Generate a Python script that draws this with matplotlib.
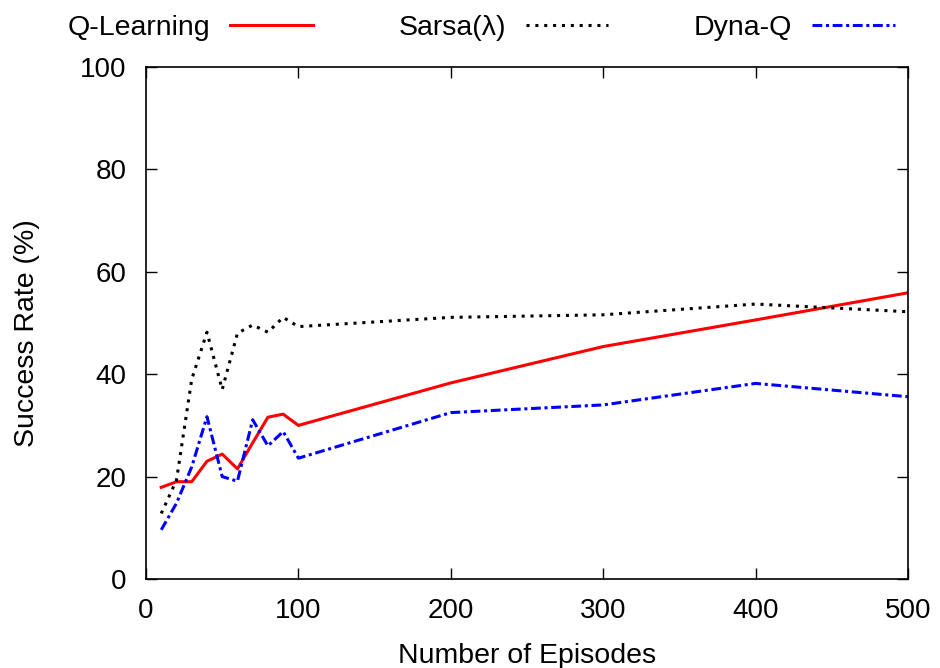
import matplotlib
matplotlib.use("Agg")
import matplotlib.pyplot as plt

plt.rcParams['font.family'] = ['Liberation Sans', 'DejaVu Sans']

episodes = [10, 20, 30, 40, 50, 60, 70, 80, 90, 100, 200, 300, 400, 500]
q_learning = [17.9, 19.0, 19.0, 23.0, 24.4, 21.5, 26.6, 31.6, 32.2, 30.0, 38.3, 45.4, 50.6, 55.9]
sarsa = [12.8, 19.3, 39.0, 48.2, 37.0, 48.0, 49.6, 48.2, 51.1, 49.3, 51.1, 51.6, 53.7, 52.2]
dyna_q = [9.6, 14.8, 21.9, 31.7, 20.0, 19.1, 31.1, 26.0, 28.8, 23.6, 32.5, 34.0, 38.2, 35.6]

fig = plt.figure(figsize=(9.4, 6.68), dpi=100)
ax = fig.add_axes([146/940, 1 - 579/668, (908-146)/940, (579-67)/668])

ax.plot(episodes, q_learning, color='#ff0000', lw=2.2, label='Q-Learning')
ax.plot(episodes, sarsa, color='black', lw=2.2, dashes=(1, 1.9), label='Sarsa(λ)')
ax.plot(episodes, dyna_q, color='#0000ff', lw=2.2, dashes=(3.2, 1.2, 1, 1.2), label='Dyna-Q')

ax.set_xlim(0, 500)
ax.set_ylim(0, 100)
ax.set_xticks(range(0, 501, 100))
ax.set_yticks(range(0, 101, 20))
ax.tick_params(direction='in', length=8, width=1, labelsize=20, top=True, right=True, pad=14)
for s in ax.spines.values():
    s.set_linewidth(1.2)

ax.set_xlabel('Number of Episodes', fontsize=20.5)
ax.set_ylabel('Success Rate (%)', fontsize=20.5)
ax.xaxis.set_label_coords(0.5, -0.125)
ax.yaxis.set_label_coords(-0.139, 0.48)

ax.legend(loc='center', bbox_to_anchor=(0.44, 1.076), ncol=3, frameon=False,
          markerfirst=False, handlelength=2.9, columnspacing=3.0, fontsize=20.5,
          handletextpad=0.7, borderaxespad=0, borderpad=0)

fig.savefig('out.png', dpi=100)
